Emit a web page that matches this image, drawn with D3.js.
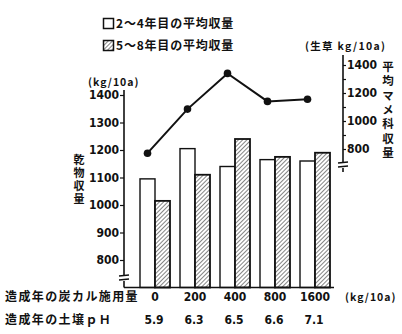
<!DOCTYPE html>
<html><head><meta charset="utf-8">
<script src="https://cdn.jsdelivr.net/npm/d3@7"></script>
<style>
body{margin:0;background:#fff;}
svg{display:block;}
.jp{font-family:"Noto Sans CJK JP",sans-serif;font-weight:bold;fill:#111;}
.num{font-family:"DejaVu Sans Condensed","Liberation Sans Narrow","DejaVu Sans",sans-serif;font-stretch:condensed;font-weight:bold;fill:#111;}
.vt{writing-mode:vertical-rl;}
</style></head>
<body>
<script>
const categories = ["0","200","400","800","1600"];
const soilPH = ["5.9","6.3","6.5","6.6","7.1"];
const yield24 = [1095,1205,1140,1165,1160];
const yield58 = [1015,1110,1240,1175,1190];
const legumeYield = [770,1085,1340,1140,1155];
const leftTicks = [800,900,1000,1100,1200,1300,1400];
const rightTicks = [800,900,1000,1100,1200,1300,1400];
const rightLabelTicks = [800,1000,1200,1400];
const seriesNames = ["2～4年目の平均収量","5～8年目の平均収量"];

const W=402,H=334;
const svg=d3.select("body").append("svg").attr("width",W).attr("height",H);
const defs=svg.append("defs");
const pat=defs.append("pattern").attr("id","hatch").attr("patternUnits","userSpaceOnUse")
  .attr("width",3).attr("height",3).attr("patternTransform","rotate(45)");
pat.append("rect").attr("width",3).attr("height",3).attr("fill","#fff");
pat.append("line").attr("x1",0).attr("y1",0).attr("x2",0).attr("y2",3).attr("stroke","#333").attr("stroke-width",1.2);

const x=d3.scaleBand().domain(categories).range([135,335]).paddingInner(0.25).paddingOuter(0.125);
const xs=d3.scaleBand().domain([0,1]).range([0,x.bandwidth()]);
const yL=d3.scaleLinear().domain([700,1400]).range([287.5,95]);
const yR=d3.scaleLinear().domain([800,1400]).range([149,65]);
const base=yL(700);

// bars
const g=svg.append("g");
categories.forEach((c,i)=>{
  [yield24[i],yield58[i]].forEach((v,k)=>{
    g.append("rect").attr("x",x(c)+xs(k)).attr("y",yL(v))
     .attr("width",xs.bandwidth()).attr("height",base-yL(v))
     .attr("fill",k===0?"#fff":"url(#hatch)").attr("stroke","#111")
     .attr("stroke-width",k===0?1.4:1.8);
  });
});

// baseline
svg.append("line").attr("x1",124).attr("x2",334).attr("y1",base).attr("y2",base).attr("stroke","#111").attr("stroke-width",1.6);

// left axis
const la=svg.append("g").attr("transform","translate(124,0)")
  .call(d3.axisLeft(yL).tickValues(leftTicks).tickSize(4).tickFormat(d3.format("d")));
la.select(".domain").remove();
la.selectAll("text").attr("class","num").attr("font-size",12).attr("x",-5).style("font-family",null);
la.selectAll("line").attr("stroke","#111").attr("stroke-width",1.2);
svg.append("line").attr("x1",124).attr("x2",124).attr("y1",90).attr("y2",275).attr("stroke","#111").attr("stroke-width",1.6);
svg.append("line").attr("x1",124).attr("x2",124).attr("y1",281).attr("y2",base).attr("stroke","#111").attr("stroke-width",1.6);
svg.append("line").attr("x1",119).attr("x2",129).attr("y1",276).attr("y2",275).attr("stroke","#111").attr("stroke-width",1.3);
svg.append("line").attr("x1",119).attr("x2",129).attr("y1",280).attr("y2",279).attr("stroke","#111").attr("stroke-width",1.3);

// right axis
const ra=svg.append("g").attr("transform","translate(343,0)")
  .call(d3.axisRight(yR).tickValues(rightTicks).tickSize(3)
  .tickFormat(d=>rightLabelTicks.includes(d)?String(d):""));
ra.select(".domain").remove();
ra.selectAll("text").attr("class","num").attr("font-size",12).attr("x",4).style("font-family",null);
ra.selectAll("line").attr("stroke","#111").attr("stroke-width",1.2);
svg.append("line").attr("x1",343).attr("x2",343).attr("y1",55).attr("y2",162).attr("stroke","#111").attr("stroke-width",1.6);
svg.append("line").attr("x1",343).attr("x2",343).attr("y1",168).attr("y2",172).attr("stroke","#111").attr("stroke-width",1.6);
svg.append("line").attr("x1",338).attr("x2",348).attr("y1",163).attr("y2",162).attr("stroke","#111").attr("stroke-width",1.3);
svg.append("line").attr("x1",338).attr("x2",348).attr("y1",167).attr("y2",166).attr("stroke","#111").attr("stroke-width",1.3);

// line
const lx=c=>x(c)+xs(0)+xs.bandwidth()/2;
svg.append("path").datum(categories).attr("fill","none").attr("stroke","#111").attr("stroke-width",2)
  .attr("d",d3.line().x(c=>lx(c)).y((c,i)=>yR(legumeYield[i])));
svg.selectAll(".dot").data(categories).enter().append("circle")
  .attr("cx",c=>lx(c)).attr("cy",(c,i)=>yR(legumeYield[i])).attr("r",3.8).attr("fill","#111");

// legend
seriesNames.forEach((n,k)=>{
  const yy=18+k*22;
  svg.append("rect").attr("x",103.5).attr("y",yy+0.5).attr("width",10).attr("height",10)
    .attr("fill",k===0?"#fff":"url(#hatch)").attr("stroke","#111").attr("stroke-width",1.5);
  svg.append("text").attr("class","jp").attr("x",116).attr("y",yy+10).attr("font-size",12)
    .attr("letter-spacing",0.8).text(n);
});

// units
svg.append("text").attr("class","jp").attr("x",88).attr("y",86).attr("font-size",10.5).attr("letter-spacing",1).text("(kg/10a)");
svg.append("text").attr("class","jp").attr("x",305).attr("y",50).attr("font-size",10.5).attr("letter-spacing",1.3).text("(生草 kg/10a)");

// vertical titles
svg.append("text").attr("class","jp vt").attr("x",79).attr("y",154).attr("font-size",11)
  .attr("letter-spacing",2).text("乾物収量");
svg.append("text").attr("class","jp vt").attr("x",388).attr("y",61).attr("font-size",11.5)
  .attr("letter-spacing",2.8).text("平均マメ科収量");

// bottom rows
svg.append("text").attr("class","jp").attr("x",5).attr("y",301).attr("font-size",12)
  .attr("letter-spacing",1.4).text("造成年の炭カル施用量");
svg.append("text").attr("class","jp").attr("x",5).attr("y",324).attr("font-size",12)
  .attr("letter-spacing",1.4).text("造成年の土壌ｐＨ");
categories.forEach((c,i)=>{
  svg.append("text").attr("class","num").attr("x",x(c)+x.bandwidth()/2).attr("y",301)
    .attr("font-size",12).attr("text-anchor","middle").text(c);
  svg.append("text").attr("class","num").attr("x",x(c)+x.bandwidth()/2-1).attr("y",324)
    .attr("font-size",12).attr("text-anchor","middle").text(soilPH[i]);
});
svg.append("text").attr("class","jp").attr("x",345).attr("y",301).attr("font-size",10.5).attr("letter-spacing",1).text("(kg/10a)");
</script>
</body></html>
